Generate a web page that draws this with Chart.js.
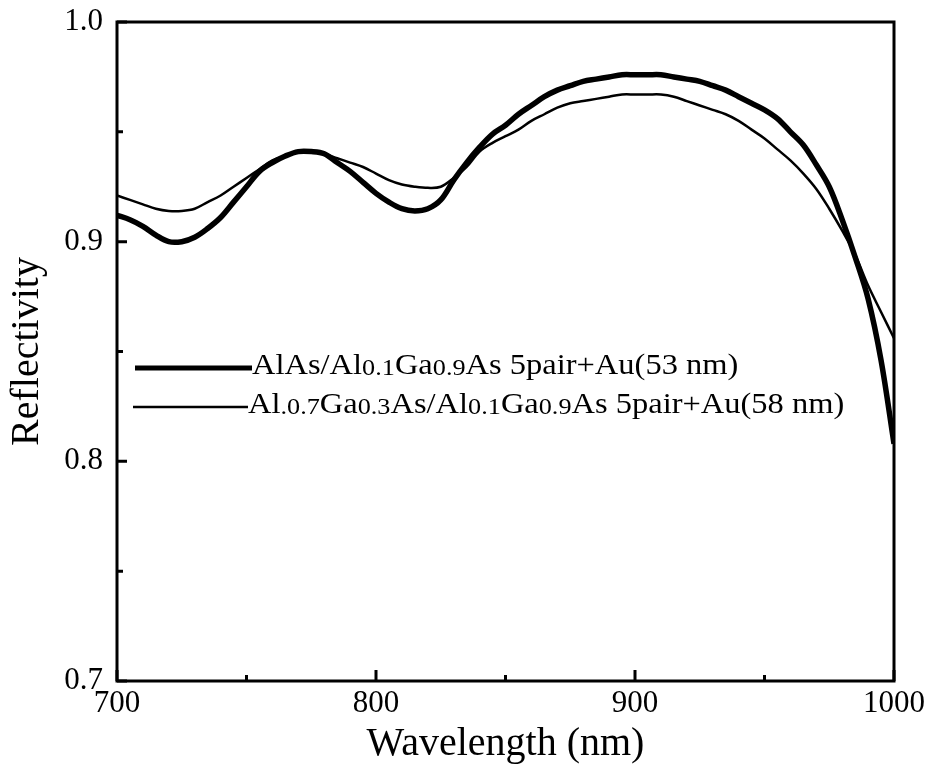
<!DOCTYPE html>
<html>
<head>
<meta charset="utf-8">
<script src="https://cdn.jsdelivr.net/npm/chart.js@4"></script>
<style>
  body { margin: 0; background: #fff; }
  #wrap { width: 932px; height: 774px; }
</style>
</head>
<body>
<div id="wrap"><canvas id="chart" width="932" height="774"></canvas></div>
<script>
// data
const wavelengths = [700, 705, 710, 715, 720, 725, 730, 735, 740, 745, 750, 755, 760, 765, 770, 775, 780, 785, 790, 795,
  800, 805, 810, 815, 820, 825, 830, 835, 840, 845, 850, 855, 860, 865, 870, 875, 880, 885, 890, 895,
  900, 905, 910, 915, 920, 925, 930, 935, 940, 945, 950, 955, 960, 965, 970, 975, 980, 985, 990, 995, 1000];

// AlAs/Al0.1Ga0.9As (thick line)
const alasRefl = [0.912, 0.910, 0.907, 0.903, 0.900, 0.900, 0.902, 0.906, 0.911, 0.918, 0.925, 0.932, 0.936, 0.939, 0.941, 0.941, 0.940, 0.936, 0.932, 0.927,
  0.922, 0.918, 0.915, 0.914, 0.915, 0.919, 0.928, 0.936, 0.943, 0.949, 0.953, 0.958, 0.962, 0.966, 0.969, 0.971, 0.973, 0.974, 0.975, 0.976,
  0.976, 0.976, 0.976, 0.975, 0.974, 0.973, 0.971, 0.969, 0.966, 0.963, 0.960, 0.956, 0.950, 0.944, 0.935, 0.925, 0.910, 0.893, 0.874, 0.846, 0.808];

// Al0.7Ga0.3As/Al0.1Ga0.9As (thin line)
const algaasRefl = [0.921, 0.919, 0.917, 0.915, 0.914, 0.914, 0.915, 0.918, 0.921, 0.925, 0.929, 0.933, 0.937, 0.939, 0.941, 0.941, 0.940, 0.938, 0.936, 0.934,
  0.931, 0.928, 0.926, 0.925, 0.9245, 0.925, 0.929, 0.934, 0.941, 0.945, 0.948, 0.951, 0.955, 0.958, 0.961, 0.963, 0.964, 0.965, 0.966, 0.967,
  0.967, 0.967, 0.967, 0.966, 0.964, 0.962, 0.960, 0.958, 0.955, 0.951, 0.947, 0.942, 0.937, 0.931, 0.924, 0.915, 0.905, 0.894, 0.880, 0.868, 0.856];

// legend labels, _{..} = small subscript-ish text
const seriesLabels = [
  'AlAs/Al_{0.1}Ga_{0.9}As 5pair+Au(53 nm)',
  'Al_{.0.7}Ga_{0.3}As/Al_{0.1}Ga_{0.9}As 5pair+Au(58 nm)'
];

const xTicks = [700, 800, 900, 1000];
const xMinorTicks = [750, 850, 950];
const yTicks = [0.7, 0.8, 0.9, 1.0];
const yMinorTicks = [0.75, 0.85, 0.95];

const serif = '"Liberation Serif", "Times New Roman", serif';

function toPoints(ys) {
  return wavelengths.map((w, i) => ({ x: w, y: ys[i] }));
}

// frame + inward ticks
const framePlugin = {
  id: 'frame',
  afterDraw(chart) {
    const ctx = chart.ctx;
    const a = chart.chartArea;
    const xs = chart.scales.x, ys = chart.scales.y;
    ctx.save();
    ctx.strokeStyle = '#000';
    ctx.lineWidth = 3;
    ctx.strokeRect(a.left, a.top, a.right - a.left, a.bottom - a.top);
    ctx.beginPath();
    xTicks.forEach(v => { const p = xs.getPixelForValue(v); ctx.moveTo(p, a.bottom); ctx.lineTo(p, a.bottom - 11); });
    xMinorTicks.forEach(v => { const p = xs.getPixelForValue(v); ctx.moveTo(p, a.bottom); ctx.lineTo(p, a.bottom - 6); });
    yTicks.forEach(v => { const p = ys.getPixelForValue(v); ctx.moveTo(a.left, p); ctx.lineTo(a.left + 10, p); });
    yMinorTicks.forEach(v => { const p = ys.getPixelForValue(v); ctx.moveTo(a.left, p); ctx.lineTo(a.left + 6, p); });
    ctx.stroke();
    ctx.restore();
  }
};

// legend drawn inside the plot, with small numbers
const legendPlugin = {
  id: 'inlineLegend',
  afterDraw(chart) {
    const ctx = chart.ctx;
    const rows = [
      { x0: 135, x1: 252, y: 368, tx: 252, base: 374, width: 5 },
      { x0: 133, x1: 248, y: 407, tx: 248, base: 413, width: 2.5 }
    ];
    ctx.save();
    chart.data.datasets.forEach((ds, i) => {
      const r = rows[i];
      ctx.strokeStyle = ds.borderColor;
      ctx.lineWidth = r.width;
      ctx.beginPath();
      ctx.moveTo(r.x0, r.y);
      ctx.lineTo(r.x1, r.y);
      ctx.stroke();

      const parts = seriesLabels[i].split(/(_\{[^}]*\})/).filter(s => s.length);
      ctx.save();
      ctx.translate(r.tx, r.base);
      ctx.scale(1.14, 1);
      ctx.fillStyle = '#000';
      ctx.textBaseline = 'alphabetic';
      let x = 0;
      parts.forEach(p => {
        if (p.startsWith('_{')) {
          const t = p.slice(2, -1);
          ctx.font = '23px ' + serif;
          ctx.fillText(t, x, 1);
          x += ctx.measureText(t).width;
        } else {
          ctx.font = '28.5px ' + serif;
          ctx.fillText(p, x, 0);
          x += ctx.measureText(p).width;
        }
      });
      ctx.restore();
    });
    ctx.restore();
  }
};

const chart = new Chart(document.getElementById('chart'), {
  type: 'line',
  data: {
    datasets: [{
      label: seriesLabels[0].replace(/_\{([^}]*)\}/g, '$1'),
      data: toPoints(alasRefl),
      borderColor: '#000',
      borderWidth: 5.5,
      pointRadius: 0,
      tension: 0.35,
      fill: false
    }, {
      label: seriesLabels[1].replace(/_\{([^}]*)\}/g, '$1'),
      data: toPoints(algaasRefl),
      borderColor: '#000',
      borderWidth: 2.5,
      pointRadius: 0,
      tension: 0.35,
      fill: false
    }]
  },
  options: {
    responsive: false,
    animation: false,
    layout: { padding: { top: 22, right: 38, left: 0, bottom: 0 } },
    plugins: { legend: { display: false }, tooltip: { enabled: false } },
    scales: {
      x: {
        type: 'linear',
        min: 700,
        max: 1000,
        afterFit(scale) { scale.height = 93; },
        afterBuildTicks(scale) { scale.ticks = xTicks.map(v => ({ value: v })); },
        grid: { display: false, drawTicks: false },
        border: { display: false },
        ticks: {
          color: '#000',
          padding: 4,
          maxRotation: 0,
          font: { family: serif, size: 31 },
          callback: v => String(v)
        },
        title: {
          display: true,
          text: 'Wavelength (nm)',
          color: '#000',
          font: { family: serif, size: 40, lineHeight: 1.2 },
          padding: { top: 0, bottom: 6 }
        }
      },
      y: {
        min: 0.7,
        max: 1.0,
        afterFit(scale) { scale.width = 117; },
        afterBuildTicks(scale) { scale.ticks = yTicks.map(v => ({ value: v })); },
        grid: { display: false, drawTicks: false },
        border: { display: false },
        ticks: {
          color: '#000',
          padding: 14,
          font: { family: serif, size: 31, lineHeight: 0.4 },
          callback: v => v.toFixed(1)
        },
        title: {
          display: true,
          text: 'Reflectivity',
          color: '#000',
          font: { family: serif, size: 40, lineHeight: 1.2 },
          padding: { top: 3, bottom: 0 }
        }
      }
    }
  },
  plugins: [framePlugin, legendPlugin]
});
</script>
</body>
</html>
